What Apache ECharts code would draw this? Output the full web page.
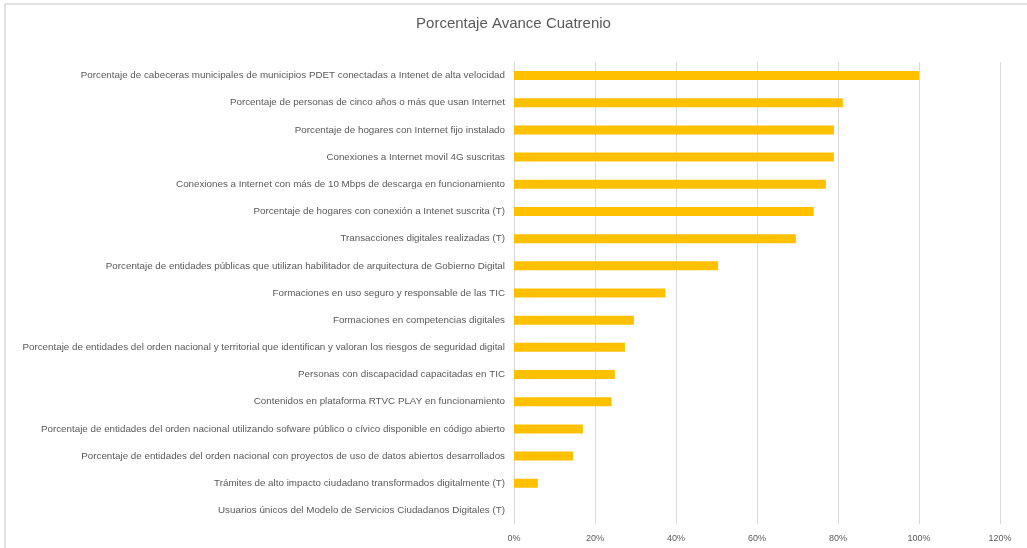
<!DOCTYPE html>
<html>
<head>
<meta charset="utf-8">
<title>Porcentaje Avance Cuatrenio</title>
<script src="https://cdn.jsdelivr.net/npm/echarts@6/dist/echarts.min.js"></script>
<style>
  html, body { margin: 0; padding: 0; background: #ffffff; }
  #chart { width: 1027px; height: 548px; }
</style>
</head>
<body>
<div id="chart"></div>
<script>
// Indicadores (de arriba hacia abajo)
const categories = [
  'Porcentaje de cabeceras municipales de municipios PDET conectadas a Intenet de alta velocidad',
  'Porcentaje de personas de cinco años o más que usan Internet',
  'Porcentaje de hogares con Internet fijo instalado',
  'Conexiones a Internet movil 4G suscritas',
  'Conexiones a Internet con más de 10 Mbps de descarga en funcionamiento',
  'Porcentaje de hogares con conexión a Intenet suscrita (T)',
  'Transacciones digitales realizadas (T)',
  'Porcentaje de entidades públicas que utilizan habilitador de arquitectura de Gobierno Digital',
  'Formaciones en uso seguro y responsable de las TIC',
  'Formaciones en competencias digitales',
  'Porcentaje de entidades del orden nacional y territorial que identifican y valoran los riesgos de seguridad digital',
  'Personas con discapacidad capacitadas en TIC',
  'Contenidos en plataforma RTVC PLAY en funcionamiento',
  'Porcentaje de entidades del orden nacional utilizando sofware público o cívico disponible en código abierto',
  'Porcentaje de entidades del orden nacional con proyectos de uso de datos abiertos desarrollados',
  'Trámites de alto impacto ciudadano transformados digitalmente (T)',
  'Usuarios únicos del Modelo de Servicios Ciudadanos Digitales (T)'
];

// Avance del cuatrienio (fracción, 1 = 100%)
const avance = [
  1.00, 0.812, 0.790, 0.790, 0.770, 0.740, 0.696,
  0.504, 0.374, 0.296, 0.274, 0.249, 0.241,
  0.170, 0.146, 0.059, 0.0
];

// Marcas del eje horizontal
const xTicks = { min: 0, max: 1.2, interval: 0.2 };

const chart = echarts.init(document.getElementById('chart'));
const textColor = '#595959';
const fontFamily = '"Liberation Sans", Arial, sans-serif';

chart.setOption({
  animation: false,
  backgroundColor: '#ffffff',
  textStyle: { fontFamily: fontFamily },
  graphic: [{
    type: 'rect',
    shape: { x: 5, y: 4, width: 1060, height: 600 },
    style: { fill: 'none', stroke: '#d9d9d9', lineWidth: 1.5 },
    silent: true
  }],
  title: {
    text: 'Porcentaje Avance Cuatrenio',
    left: 'center',
    top: 11,
    textStyle: { color: textColor, fontSize: 15, fontWeight: 'normal', fontFamily: fontFamily }
  },
  grid: { left: 514, right: 27, top: 62, bottom: 24, containLabel: false },
  xAxis: {
    type: 'value',
    min: xTicks.min,
    max: xTicks.max,
    interval: xTicks.interval,
    axisLine: { show: false },
    axisTick: { show: false },
    splitLine: { lineStyle: { color: '#d9d9d9', width: 1 } },
    axisLabel: {
      color: textColor,
      fontSize: 9,
      margin: 10,
      formatter: v => Math.round(v * 100) + '%'
    }
  },
  yAxis: {
    type: 'category',
    data: categories,
    inverse: true,
    axisLine: { show: true, lineStyle: { color: '#d9d9d9', width: 1 } },
    axisTick: { show: false },
    axisLabel: { color: textColor, fontSize: 9.8, margin: 9 }
  },
  series: [{
    type: 'bar',
    data: avance,
    barWidth: 9,
    itemStyle: { color: '#FFC000' }
  }]
});
</script>
</body>
</html>
